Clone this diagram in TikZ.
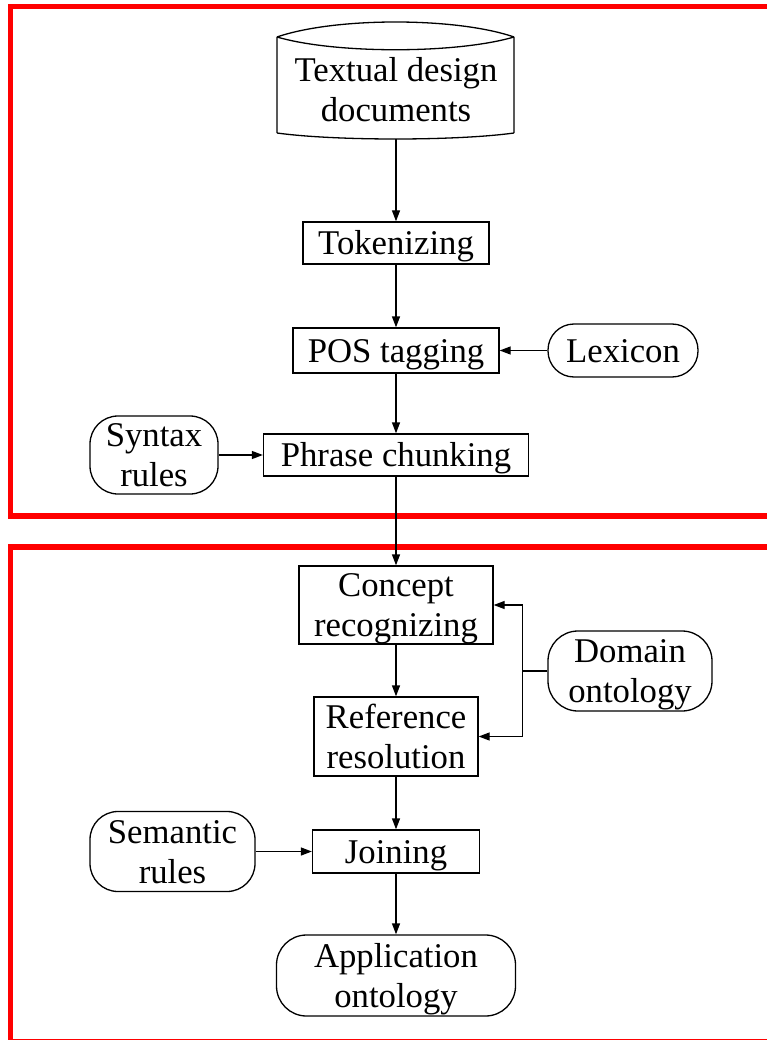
\documentclass[tikz,border=0pt]{standalone}
\usepackage{fontspec}
\setmainfont{Liberation Serif}
\usetikzlibrary{arrows.meta}

\begin{document}
\begin{tikzpicture}[x=1pt,y=-1pt,
  every node/.style={font=\fontsize{34.7}{40}\selectfont, align=center, inner sep=0pt},
  oneline/.style={text height=27pt, text depth=4pt},
  twoline/.style={text height=67pt, text depth=4pt},
  proc/.style={draw, line width=1.3pt},
  store/.style={draw, line width=1.3pt, rounded corners=28pt},
  flow/.style={line width=1.3pt, -{Triangle[length=11pt,width=8pt]}},
  frame/.style={draw=red, line width=5.5pt}]

\useasboundingbox (0,0) rectangle (766,1040);

% two red frames, running off the right and bottom edges
\draw[frame] (10.5,6.5) rectangle (800,516);
\draw[frame] (10.5,547) rectangle (800,1041.5);

% document source (drum-topped shape)
\draw[line width=1.3pt]
  (277,37) .. controls (335,17) and (456,17) .. (514,37)
  (277,37) .. controls (335,54) and (456,54) .. (514,37)
  (277,37) -- (277,133)
  (514,37) -- (514,133)
  (277,133) .. controls (335,141) and (456,141) .. (514,133);
\node[twoline, minimum width=237pt, minimum height=97pt] (doc) at (396,90.5) {Textual design\\documents};

% first stage: lexical / syntactic processing
\node[proc, oneline, minimum width=186pt, minimum height=42pt] (tok) at (396,243) {Tokenizing};
\node[proc, oneline, minimum width=206pt, minimum height=45pt] (pos) at (396,350.5) {POS tagging};
\node[store, oneline, rounded corners=26pt, minimum width=150pt, minimum height=53pt] (lex) at (623,350.5) {Lexicon};
\node[proc, oneline, minimum width=265pt, minimum height=42pt] (chunk) at (396,455) {Phrase chunking};
\node[store, twoline, minimum width=128pt, minimum height=78pt] (syn) at (154,455) {Syntax\\rules};

% second stage: semantic processing
\node[proc, twoline, minimum width=194pt, minimum height=78pt] (concept) at (396,605) {Concept\\recognizing};
\node[store, twoline, rounded corners=30pt, minimum width=164pt, minimum height=80pt] (dom) at (630,671) {Domain\\ontology};
\node[proc, twoline, minimum width=164pt, minimum height=79pt] (ref) at (396,736.5) {Reference\\resolution};
\node[proc, oneline, minimum width=167pt, minimum height=43pt] (join) at (396,851.5) {Joining};
\node[store, twoline, minimum width=165pt, minimum height=80pt] (sem) at (172.5,851.5) {Semantic\\rules};
\node[store, twoline, rounded corners=30pt, minimum width=239pt, minimum height=81pt] (app) at (396,975.5) {Application\\ontology};

% connectors
\draw[flow] (doc.south) -- (tok.north);
\draw[flow] (tok.south) -- (pos.north);
\draw[flow] (lex.west) -- (pos.east);
\draw[flow] (pos.south) -- (chunk.north);
\draw[flow] (syn.east) -- (chunk.west);
\draw[flow] (chunk.south) -- (concept.north);
\coordinate (split) at ([xshift=-25pt]dom.west);
\draw[line width=1.3pt] (dom.west) -- (split);
\draw[flow] (split) |- (concept.east);
\draw[flow] (split) |- (ref.east);
\draw[flow] (concept.south) -- (ref.north);
\draw[flow] (ref.south) -- (join.north);
\draw[flow] (sem.east) -- (join.west);
\draw[flow] (join.south) -- (app.north);

\end{tikzpicture}
\end{document}
